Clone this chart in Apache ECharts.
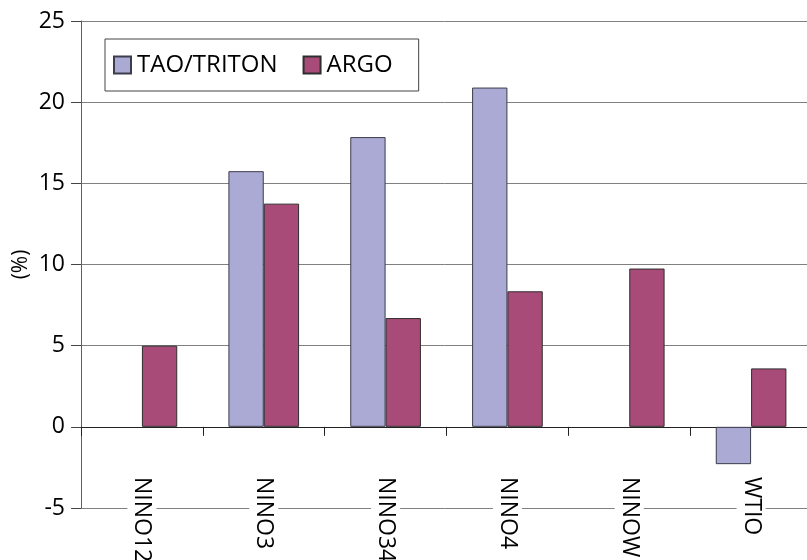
<!DOCTYPE html>
<html>
<head>
<meta charset="utf-8">
<script src="https://cdn.jsdelivr.net/npm/echarts@6/dist/echarts.min.js"></script>
<style>
html,body{margin:0;padding:0;background:#fff;}
#chart{width:807px;height:560px;}
</style>
</head>
<body>
<div id="chart"></div>
<script>
var categories = ['NINO12', 'NINO3', 'NINO34', 'NINO4', 'NINOW', 'WTIO'];
var taoTriton = [null, 15.75, 17.85, 20.9, null, -2.3];
var argo = [5.0, 13.75, 6.7, 8.35, 9.75, 3.6];
var yTicks = { min: -5, max: 25, interval: 5 };

var FONT = 'Open Sans';
var chart = echarts.init(document.getElementById('chart'), null, { renderer: 'canvas' });
chart.setOption({
  animation: false,
  backgroundColor: '#fff',
  textStyle: { fontFamily: FONT, color: '#000' },
  grid: { left: 81, right: -5, top: 21, bottom: 52, containLabel: false, outerBoundsMode: 'none' },
  legend: {
    left: 105, top: 39,
    padding: [14, 26, 14, 8],
    backgroundColor: '#fff',
    borderColor: '#444',
    borderWidth: 1,
    borderRadius: 0,
    itemWidth: 17, itemHeight: 17,
    itemGap: 25,
    icon: 'rect',
    textStyle: { fontFamily: FONT, fontSize: 24, color: '#000', padding: [0, 0, 0, 1] },
    data: ['TAO/TRITON', 'ARGO']
  },
  xAxis: {
    type: 'category',
    data: categories,
    axisLine: { onZero: true, lineStyle: { color: '#222', width: 1 } },
    axisTick: { show: true, length: 9, lineStyle: { color: '#222' } },
    axisLabel: {
      rotate: -90, margin: -31, fontFamily: FONT, fontSize: 23, color: '#000',
      backgroundColor: '#fff', padding: [3, 0]
    },
    splitLine: { show: false }
  },
  yAxis: {
    type: 'value',
    min: yTicks.min, max: yTicks.max, interval: yTicks.interval,
    name: '(%)',
    nameLocation: 'middle',
    nameGap: 49,
    nameMoveOverlap: false,
    nameTextStyle: { fontFamily: FONT, fontSize: 21, color: '#000' },
    axisLine: { show: true, lineStyle: { color: '#6a5a64', width: 1 } },
    axisTick: { show: true, length: 10, lineStyle: { color: '#444' } },
    axisLabel: { margin: 16, fontFamily: FONT, fontSize: 23, color: '#000' },
    splitLine: { show: true, lineStyle: { color: '#808080', width: 1 } }
  },
  series: [
    {
      name: 'TAO/TRITON', type: 'bar', data: taoTriton,
      barGap: '0%', barCategoryGap: '42%',
      itemStyle: { color: '#aaaad4', borderColor: '#3c3c4c', borderWidth: 1 }
    },
    {
      name: 'ARGO', type: 'bar', data: argo,
      barGap: '0%', barCategoryGap: '42%',
      itemStyle: { color: '#a84b78', borderColor: '#2e2e2e', borderWidth: 1 }
    }
  ]
});
</script>
</body>
</html>
